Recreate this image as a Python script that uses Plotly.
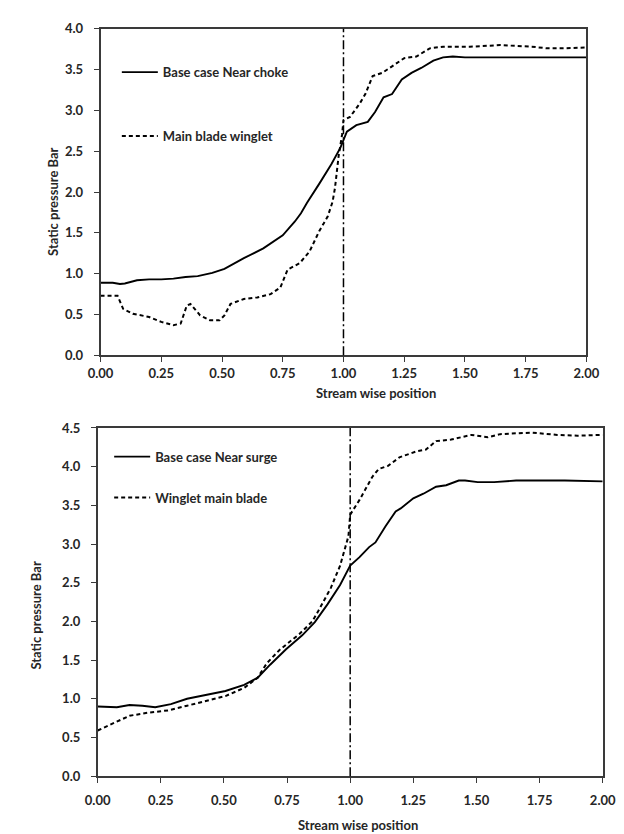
import plotly.graph_objects as go

# ---------------- data ----------------
choke_base_x = [0.00, 0.05, 0.08, 0.10, 0.15, 0.20, 0.25, 0.30, 0.35, 0.40, 0.46, 0.51, 0.59, 0.67,
                0.75, 0.80, 0.825, 0.85, 0.90, 0.95, 0.987, 1.00, 1.014, 1.053, 1.10, 1.13, 1.165,
                1.20, 1.24, 1.28, 1.32, 1.37, 1.41, 1.45, 1.50, 1.60, 1.70, 1.80, 1.90, 2.00]
choke_base_y = [0.89, 0.89, 0.875, 0.88, 0.92, 0.93, 0.93, 0.94, 0.96, 0.97, 1.01, 1.06, 1.19, 1.31,
                1.47, 1.64, 1.74, 1.87, 2.10, 2.34, 2.54, 2.64, 2.74, 2.82, 2.86, 2.98, 3.16,
                3.20, 3.38, 3.46, 3.52, 3.61, 3.65, 3.66, 3.65, 3.65, 3.65, 3.65, 3.65, 3.65]

choke_wing_x = [0.00, 0.07, 0.093, 0.133, 0.20, 0.25, 0.30, 0.33, 0.355, 0.37, 0.41, 0.45, 0.49,
                0.51, 0.535, 0.59, 0.645, 0.70, 0.74, 0.77, 0.82, 0.86, 0.90, 0.935, 0.955, 0.965,
                0.98, 0.994, 1.00, 1.027, 1.066, 1.09, 1.12, 1.16, 1.20, 1.25, 1.30, 1.355, 1.41,
                1.52, 1.645, 1.775, 1.84, 1.90, 2.00]
choke_wing_y = [0.73, 0.73, 0.57, 0.51, 0.47, 0.41, 0.37, 0.39, 0.61, 0.63, 0.49, 0.43, 0.43,
                0.49, 0.63, 0.69, 0.71, 0.75, 0.83, 1.05, 1.13, 1.27, 1.52, 1.70, 1.88, 2.05,
                2.44, 2.70, 2.88, 2.92, 3.08, 3.20, 3.42, 3.46, 3.54, 3.64, 3.66, 3.76, 3.78,
                3.78, 3.80, 3.78, 3.76, 3.76, 3.77]

surge_base_x = [0.00, 0.076, 0.126, 0.177, 0.228, 0.29, 0.354, 0.405, 0.455, 0.506, 0.58, 0.633,
                0.683, 0.746, 0.81, 0.86, 0.91, 0.96, 1.00, 1.037, 1.075, 1.10, 1.14, 1.18, 1.20,
                1.25, 1.29, 1.34, 1.38, 1.43, 1.455, 1.505, 1.57, 1.657, 1.75, 1.85, 2.00]
surge_base_y = [0.90, 0.89, 0.92, 0.91, 0.89, 0.93, 1.00, 1.035, 1.07, 1.10, 1.18, 1.27,
                1.44, 1.64, 1.82, 1.99, 2.22, 2.47, 2.72, 2.83, 2.96, 3.02, 3.23, 3.42, 3.46,
                3.59, 3.65, 3.74, 3.76, 3.82, 3.82, 3.80, 3.80, 3.82, 3.82, 3.82, 3.81]

surge_wing_x = [0.00, 0.063, 0.126, 0.20, 0.28, 0.354, 0.43, 0.506, 0.58, 0.633, 0.67, 0.72,
                0.80, 0.85, 0.873, 0.923, 0.96, 0.993, 1.00, 1.037, 1.088, 1.113, 1.15, 1.195,
                1.265, 1.30, 1.34, 1.40, 1.48, 1.545, 1.594, 1.72, 1.82, 1.90, 2.00]
surge_wing_y = [0.59, 0.68, 0.78, 0.82, 0.85, 0.91, 0.97, 1.035, 1.14, 1.27, 1.46, 1.63,
                1.84, 2.00, 2.13, 2.43, 2.72, 3.10, 3.38, 3.57, 3.87, 3.97, 4.01, 4.12,
                4.20, 4.22, 4.33, 4.35, 4.41, 4.38, 4.42, 4.44, 4.41, 4.40, 4.41]

x_ticks = [0.0, 0.25, 0.5, 0.75, 1.0, 1.25, 1.5, 1.75, 2.0]
y_ticks_top = [0.0, 0.5, 1.0, 1.5, 2.0, 2.5, 3.0, 3.5, 4.0]
y_ticks_bottom = [0.0, 0.5, 1.0, 1.5, 2.0, 2.5, 3.0, 3.5, 4.0, 4.5]
marker_position = 1.0

top_names = ["Base case Near choke", "Main blade winglet"]
bottom_names = ["Base case Near surge", "Winglet main blade"]
x_title = "Stream wise position"
y_title = "Static pressure Bar"

# ---------------- figure ----------------
W, H = 624, 834
FONT = "Lato"
TXT = "#262626"

fig = go.Figure()

solid = dict(color="black", width=1.9)
dashed = dict(color="black", width=2, dash="4px,3px")

fig.add_trace(go.Scatter(x=choke_base_x, y=choke_base_y, mode="lines", line=solid,
                         name=top_names[0], xaxis="x", yaxis="y", legend="legend",
                         legendgroup="a"))
fig.add_trace(go.Scatter(x=choke_wing_x, y=choke_wing_y, mode="lines", line=dashed,
                         name=top_names[1], xaxis="x", yaxis="y", legend="legend",
                         legendgroup="b"))
fig.add_trace(go.Scatter(x=surge_base_x, y=surge_base_y, mode="lines", line=solid,
                         name=bottom_names[0], xaxis="x2", yaxis="y2", legend="legend2",
                         legendgroup="c"))
fig.add_trace(go.Scatter(x=surge_wing_x, y=surge_wing_y, mode="lines", line=dashed,
                         name=bottom_names[1], xaxis="x2", yaxis="y2", legend="legend2",
                         legendgroup="d"))

# vertical reference lines at x = 1.0
fig.add_shape(type="line", xref="x", yref="y domain", x0=marker_position, x1=marker_position,
              y0=0, y1=1, line=dict(color="black", width=1.5, dash="9px,3px,2px,3px"))
fig.add_shape(type="line", xref="x2", yref="y2 domain", x0=marker_position, x1=marker_position,
              y0=0, y1=1, line=dict(color="black", width=1.5, dash="9px,3px,2px,3px"))


def px_x(p):
    return p / W


def px_y(p):
    return 1 - p / H


tickfont = dict(family=FONT, size=13, color=TXT, weight="bold")
axis_common = dict(showgrid=False, zeroline=False, showline=True, linecolor="#3a3a3a",
                   linewidth=1.6, mirror=True, ticks="outside", ticklen=5, tickwidth=1.4,
                   tickcolor="#3a3a3a", tickfont=tickfont)

fig.update_layout(
    width=W, height=H,
    margin=dict(l=0, r=0, t=0, b=0),
    paper_bgcolor="white", plot_bgcolor="white",
    xaxis=dict(domain=[px_x(83), px_x(590)], range=[0, 2], tickvals=x_ticks,
               tickformat=".2f", anchor="y", ticklabelstandoff=0, **axis_common),
    yaxis=dict(domain=[px_y(346), px_y(13)], range=[0, 4], tickvals=y_ticks_top,
               tickformat=".1f", anchor="x", ticklabelstandoff=8, **axis_common),
    xaxis2=dict(domain=[px_x(80), px_x(607)], range=[0, 2], tickvals=x_ticks,
                tickformat=".2f", anchor="y2", ticklabelstandoff=6, **axis_common),
    yaxis2=dict(domain=[px_y(775), px_y(420)], range=[0, 4.5], tickvals=y_ticks_bottom,
                tickformat=".1f", anchor="x2", ticklabelstandoff=8, **axis_common),
    legend=dict(x=px_x(100), y=px_y(42), xanchor="left", yanchor="top",
                bgcolor="rgba(0,0,0,0)", tracegroupgap=44, traceorder="grouped",
                font=dict(family=FONT, size=13, color=TXT, weight="bold"),
                itemwidth=36),
    legend2=dict(x=px_x(92), y=px_y(434), xanchor="left", yanchor="top",
                 bgcolor="rgba(0,0,0,0)", tracegroupgap=21, traceorder="grouped",
                 font=dict(family=FONT, size=13, color=TXT, weight="bold"),
                 itemwidth=36),
    showlegend=True,
)

title_font = dict(family=FONT, size=13, color=TXT, weight="bold")
fig.add_annotation(text=x_title, xref="paper", yref="paper", x=px_x(370), y=px_y(384),
                   showarrow=False, font=title_font, xanchor="center", yanchor="middle")
fig.add_annotation(text=x_title, xref="paper", yref="paper", x=px_x(352), y=px_y(825),
                   showarrow=False, font=title_font, xanchor="center", yanchor="middle")
fig.add_annotation(text=y_title, xref="paper", yref="paper", x=px_x(34), y=px_y(189),
                   showarrow=False, font=title_font, textangle=-90,
                   xanchor="center", yanchor="middle")
fig.add_annotation(text=y_title, xref="paper", yref="paper", x=px_x(16), y=px_y(611),
                   showarrow=False, font=title_font, textangle=-90,
                   xanchor="center", yanchor="middle")

fig.write_html("out.html")
